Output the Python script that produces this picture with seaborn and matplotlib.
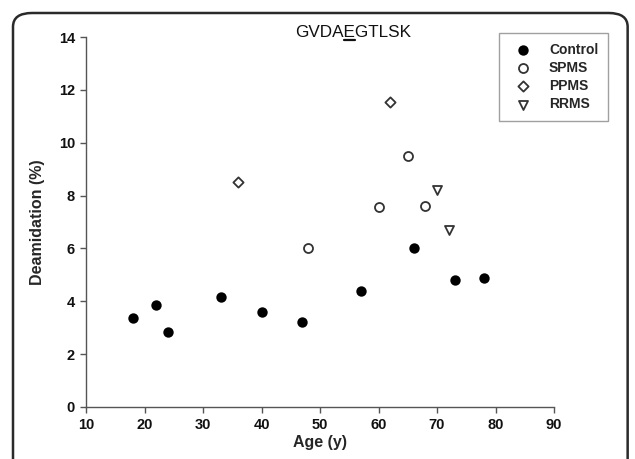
import matplotlib
matplotlib.use('Agg')
import matplotlib.pyplot as plt
from matplotlib.patches import FancyBboxPatch
from matplotlib.lines import Line2D
import seaborn as sns
import pandas as pd

# data
control_age = [18, 22, 24, 33, 40, 47, 57, 66, 73, 78]
control_deam = [3.35, 3.87, 2.84, 4.15, 3.6, 3.2, 4.4, 6.0, 4.82, 4.87]
spms_age = [48, 60, 65, 68]
spms_deam = [6.0, 7.55, 9.5, 7.6]
ppms_age = [36, 62]
ppms_deam = [8.5, 11.55]
rrms_age = [70, 72]
rrms_deam = [8.2, 6.7]

groups = ['Control', 'SPMS', 'PPMS', 'RRMS']
markers = {'Control': 'o', 'SPMS': 'o', 'PPMS': 'D', 'RRMS': 'v'}
faces = {'Control': 'black', 'SPMS': 'white', 'PPMS': 'white', 'RRMS': 'white'}
sizes = {'Control': 38, 'SPMS': 42, 'PPMS': 27, 'RRMS': 42}

df = pd.concat([
    pd.DataFrame({'age': control_age, 'deam': control_deam, 'group': 'Control'}),
    pd.DataFrame({'age': spms_age, 'deam': spms_deam, 'group': 'SPMS'}),
    pd.DataFrame({'age': ppms_age, 'deam': ppms_deam, 'group': 'PPMS'}),
    pd.DataFrame({'age': rrms_age, 'deam': rrms_deam, 'group': 'RRMS'}),
])

sns.set_style('white')
plt.rcParams['font.family'] = ['Liberation Sans', 'DejaVu Sans']

fig = plt.figure(figsize=(6.35, 4.59), dpi=100)
ax = fig.add_axes([86 / 635, 1 - 407 / 459, 468 / 635, 370 / 459])

edge = '#333333'
for g in groups:
    sub = df[df['group'] == g]
    sns.scatterplot(data=sub, x='age', y='deam', marker=markers[g], color=faces[g],
                    edgecolor=edge if g != 'Control' else 'black', linewidth=1.3,
                    s=sizes[g], label=g, ax=ax, zorder=3)

ax.set_xlim(10, 90)
ax.set_ylim(0, 14)
ax.set_xticks(range(10, 91, 10))
ax.set_yticks(range(0, 15, 2))
for s in ['top', 'right']:
    ax.spines[s].set_visible(False)
for s in ['left', 'bottom']:
    ax.spines[s].set_color('#555555')
    ax.spines[s].set_linewidth(1.0)
ax.tick_params(axis='both', direction='out', length=4, width=1, color='#555555',
               labelsize=10.5, pad=4, left=True, bottom=True)
for lab in ax.get_xticklabels() + ax.get_yticklabels():
    lab.set_fontweight('bold')
    lab.set_color('#111111')

ax.set_xlabel('Age (y)', fontsize=11.5, fontweight='bold', labelpad=2)
ax.set_ylabel('Deamidation (%)', fontsize=11.5, fontweight='bold', labelpad=10)

# title with underlined E
ty = 14.0
title = ax.text(55.7, ty, 'GVDAEGTLSK', fontsize=12.3, ha='center', va='baseline',
                color='#111111', clip_on=False)
fig.canvas.draw()
r = fig.canvas.get_renderer()
bb = title.get_window_extent(r)
tmp1 = ax.text(0, 0, 'GVDA', fontsize=12.3)
tmp2 = ax.text(0, 0, 'GVDAE', fontsize=12.3)
w1 = tmp1.get_window_extent(r).width
w2 = tmp2.get_window_extent(r).width
tmp1.remove()
tmp2.remove()
y_base = ax.transData.transform((0, ty))[1]
x0 = bb.x0
fw, fh = fig.bbox.width, fig.bbox.height
fig.add_artist(Line2D([(x0 + w1 + 0.5) / fw, (x0 + w2 - 0.5) / fw],
                      [(y_base - 2.5) / fh, (y_base - 2.5) / fh],
                      color='#111111', linewidth=1.6))

leg = ax.legend(loc='upper right', bbox_to_anchor=(608 / 635, 1 - 33 / 459),
                bbox_transform=fig.transFigure, borderaxespad=0, frameon=True,
                fancybox=False, prop={'weight': 'bold', 'size': 10},
                handletextpad=0.9, labelspacing=0.3, borderpad=0.7, handlelength=2.0)
leg.get_frame().set_edgecolor('#888888')
leg.get_frame().set_linewidth(1.0)

# rounded frame around the figure
frame = FancyBboxPatch((13 / 635, -0.2), (634 - 13) / 635 - 0.01, 1.2 - 13 / 459,
                       boxstyle='round,pad=0,rounding_size=0.03',
                       transform=fig.transFigure, facecolor='none',
                       edgecolor='#2a2a2a', linewidth=1.8, clip_on=False)
fig.add_artist(frame)

fig.savefig('out.png', dpi=100)
